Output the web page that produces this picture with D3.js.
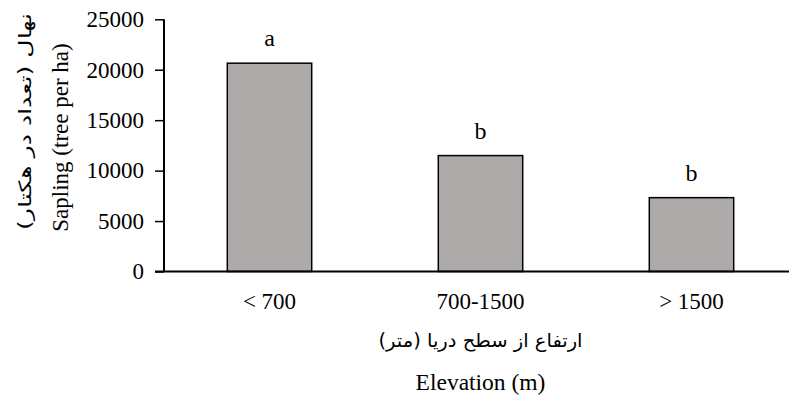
<!DOCTYPE html>
<html>
<head>
<meta charset="utf-8">
<script src="https://cdn.jsdelivr.net/npm/d3@7"></script>
<style>
  body { margin: 0; background: #fff; }
  svg { display: block; }
  svg text { font-family: "Liberation Serif", "Times New Roman", serif; fill: #000; }
  svg text.fa { font-family: "DejaVu Sans", sans-serif; }
</style>
</head>
<body>
<div id="container"></div>
<script>
// values
const categories = ["< 700", "700-1500", "> 1500"];
const sapling = [20650, 11490, 7320];
const letters = ["a", "b", "b"];
const yTicks = [0, 5000, 10000, 15000, 20000, 25000];

const width = 789;
const height = 396;
const plotLeft = 164, plotRight = 797, plotTop = 19.3, plotBottom = 271.5;

const svg = d3.select("#container")
  .append("svg")
  .attr("width", width)
  .attr("height", height);

const x = d3.scaleBand()
  .domain(categories)
  .range([plotLeft, plotRight])
  .paddingInner(0.6)
  .paddingOuter(0.3);

const y = d3.scaleLinear()
  .domain([0, 25000])
  .range([plotBottom, plotTop]);

// bars
svg.selectAll("rect.bar")
  .data(sapling)
  .enter()
  .append("rect")
  .attr("class", "bar")
  .attr("x", (d, i) => x(categories[i]))
  .attr("y", d => y(d))
  .attr("width", x.bandwidth())
  .attr("height", d => plotBottom - y(d))
  .attr("fill", "#aeaaaa")
  .attr("stroke", "#000")
  .attr("stroke-width", 1.5);

// significance letters
svg.selectAll("text.letter")
  .data(sapling)
  .enter()
  .append("text")
  .attr("class", "letter")
  .attr("x", (d, i) => x(categories[i]) + x.bandwidth() / 2)
  .attr("y", d => y(d) - 17)
  .attr("text-anchor", "middle")
  .style("font-size", "24px")
  .text((d, i) => letters[i]);

// y axis
const yAxis = svg.append("g")
  .attr("transform", `translate(${plotLeft},0)`)
  .call(d3.axisLeft(y).tickValues(yTicks).tickSize(9).tickPadding(11).tickFormat(d3.format("d")));
yAxis.select(".domain").attr("stroke-width", 2).attr("d", `M0,${plotTop}V${plotBottom}`);
yAxis.selectAll(".tick line").attr("stroke-width", 1.5);
yAxis.selectAll(".tick text").style("font-size", "23px");

// x axis
const xAxis = svg.append("g")
  .attr("transform", `translate(0,${plotBottom})`)
  .call(d3.axisBottom(x).tickSize(0).tickPadding(21));
xAxis.select(".domain").attr("stroke-width", 2).attr("d", `M${plotLeft - 9},0H${plotRight}`);
xAxis.selectAll(".tick text").style("font-size", "23px");

// axis titles
const midX = (plotLeft + plotRight) / 2;
svg.append("text")
  .attr("class", "fa")
  .attr("x", midX)
  .attr("y", 347)
  .attr("text-anchor", "middle")
  .attr("direction", "rtl")
  .attr("textLength", 204)
  .attr("lengthAdjust", "spacingAndGlyphs")
  .style("font-size", "19px")
  .text("ارتفاع از سطح دریا (متر)");

svg.append("text")
  .attr("x", midX)
  .attr("y", 390)
  .attr("text-anchor", "middle")
  .style("font-size", "23.5px")
  .text("Elevation (m)");

svg.append("text")
  .attr("transform", "translate(68,137.5) rotate(-90)")
  .attr("text-anchor", "middle")
  .style("font-size", "23px")
  .text("Sapling (tree per ha)");

svg.append("text")
  .attr("class", "fa")
  .attr("transform", "translate(31,121.5) rotate(-90)")
  .attr("text-anchor", "middle")
  .attr("direction", "rtl")
  .attr("textLength", 217)
  .attr("lengthAdjust", "spacingAndGlyphs")
  .style("font-size", "17px")
  .text("نهال (تعداد در هکتار)");
</script>
</body>
</html>
